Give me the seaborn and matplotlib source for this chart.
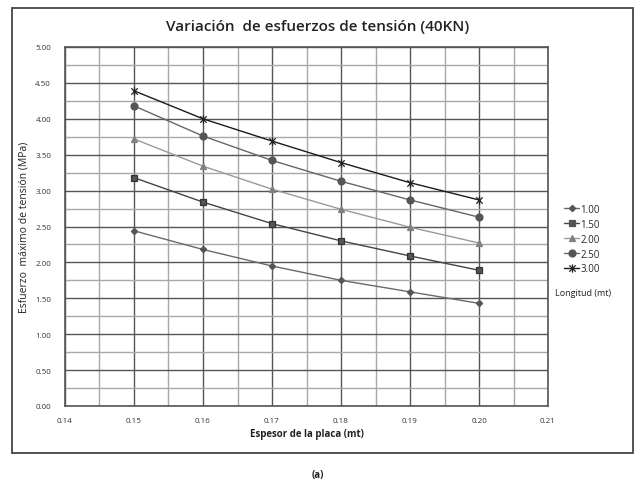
import numpy as np
import pandas as pd
import matplotlib
matplotlib.use("Agg")
import matplotlib.pyplot as plt
from matplotlib.patches import Rectangle
from matplotlib.lines import Line2D
from matplotlib.path import Path
import seaborn as sns

sns.set_style("white")
plt.rcParams['font.family'] = ['Open Sans', 'DejaVu Sans']

# Plate thickness (mt) and maximum tensile stress (MPa) per plate length
espesor = [0.15, 0.16, 0.17, 0.18, 0.19, 0.20]
longitudes = ["1.00", "1.50", "2.00", "2.50", "3.00"]
esf_100 = [2.44, 2.18, 1.95, 1.75, 1.59, 1.43]
esf_150 = [3.18, 2.84, 2.54, 2.30, 2.09, 1.89]
esf_200 = [3.72, 3.34, 3.02, 2.74, 2.49, 2.27]
esf_250 = [4.18, 3.76, 3.42, 3.13, 2.87, 2.63]
esf_300 = [4.39, 4.00, 3.69, 3.39, 3.11, 2.87]
x_ticks = [0.14, 0.15, 0.16, 0.17, 0.18, 0.19, 0.20, 0.21]
y_ticks = [0.0, 0.5, 1.0, 1.5, 2.0, 2.5, 3.0, 3.5, 4.0, 4.5, 5.0]

series = [esf_100, esf_150, esf_200, esf_250, esf_300]
df = pd.DataFrame({
    "Espesor": np.tile(espesor, len(longitudes)),
    "Esfuerzo": np.concatenate(series),
    "Longitud": np.repeat(longitudes, len(espesor)),
})

# Asterisk marker: an "x" crossed by a vertical stroke
asterisk = Path([(-1, -1), (1, 1), (-1, 1), (1, -1), (0, -1.3), (0, 1.3)],
                [Path.MOVETO, Path.LINETO, Path.MOVETO, Path.LINETO,
                 Path.MOVETO, Path.LINETO])

line_colors = {"1.00": "#6a6a6a", "1.50": "#444444", "2.00": "#9a9a9a",
               "2.50": "#666666", "3.00": "#1a1a1a"}
marker_colors = {"1.00": "#555555", "1.50": "#555555", "2.00": "#808080",
                 "2.50": "#555555", "3.00": "#222222"}
markers = {"1.00": "D", "1.50": "s", "2.00": "^", "2.50": "o", "3.00": asterisk}
msizes = {"1.00": 3.2, "1.50": 5, "2.00": 5, "2.50": 5, "3.00": 6}

W, H = 635, 485
fig = plt.figure(figsize=(W / 100, H / 100), dpi=100)
ax = fig.add_axes([65 / W, 1 - 407 / H, (548 - 65) / W, (407 - 48) / H])

for lon in longitudes:
    sub = df[df["Longitud"] == lon]
    sns.lineplot(data=sub, x="Espesor", y="Esfuerzo", ax=ax,
                 color=line_colors[lon], linewidth=1.0, marker=markers[lon],
                 markersize=msizes[lon], markerfacecolor=marker_colors[lon],
                 markeredgecolor=marker_colors[lon] if lon != "1.50" else "#333333",
                 markeredgewidth=0.9, legend=False, zorder=3)

ax.set_xlim(0.14, 0.21)
ax.set_ylim(0, 5)
ax.set_xticks(x_ticks)
ax.set_xticklabels([f"{v:.2f}" for v in x_ticks])
ax.set_yticks(y_ticks)
ax.set_yticklabels([f"{v:.2f}" for v in y_ticks])
ax.set_xticks(np.arange(0.145, 0.21, 0.01), minor=True)
ax.set_yticks(np.arange(0.25, 5.0, 0.5), minor=True)
ax.grid(which="major", color="#555555", linewidth=1.0, zorder=0)
ax.grid(which="minor", color="#a8a8a8", linewidth=1.0, zorder=0)
ax.tick_params(which="both", length=0, labelsize=5.8, colors="#333333")
ax.tick_params(axis="x", pad=8)
ax.tick_params(axis="y", pad=10)
for s in ax.spines.values():
    s.set_color("#555555")
    s.set_linewidth(1.2)

ax.set_xlabel("Espesor de la placa (mt)", fontsize=7, fontweight="bold",
              color="#222222", labelpad=3)
ax.set_ylabel("Esfuerzo  máximo de tensión (MPa)", fontsize=7.5,
              color="#222222", labelpad=4)

fig.text(0.5, 1 - 27 / H, "Variación  de esfuerzos de tensión (40KN)",
         ha="center", va="center", fontsize=11, fontweight="semibold", color="#222222")

# Legend to the right of the plot area
handles = [Line2D([0], [0], color=line_colors[l], linewidth=1.0, marker=markers[l],
                  markersize=msizes[l], markerfacecolor=marker_colors[l],
                  markeredgecolor=marker_colors[l], markeredgewidth=0.9)
           for l in longitudes]
leg = fig.legend(handles, longitudes, loc="upper left",
                 bbox_to_anchor=(560 / W, 1 - 201 / H), frameon=False,
                 fontsize=7, handlelength=1.6, handletextpad=0.1,
                 labelspacing=0.4, borderaxespad=0)
fig.text(555 / W, 1 - 294 / H, "Longitud (mt)", fontsize=6.5, va="center",
         color="#222222")

# Chart frame and caption
fig.patches.append(Rectangle((12 / W, 1 - 454 / H), (633 - 12) / W, (454 - 9) / H,
                             transform=fig.transFigure, fill=False,
                             edgecolor="#444444", linewidth=1.3))
fig.text(0.5, 1 - 476 / H, "(a)", ha="center", va="center", fontsize=7,
         fontweight="bold", color="#222222")

fig.savefig("out.png", dpi=100, facecolor="white")
